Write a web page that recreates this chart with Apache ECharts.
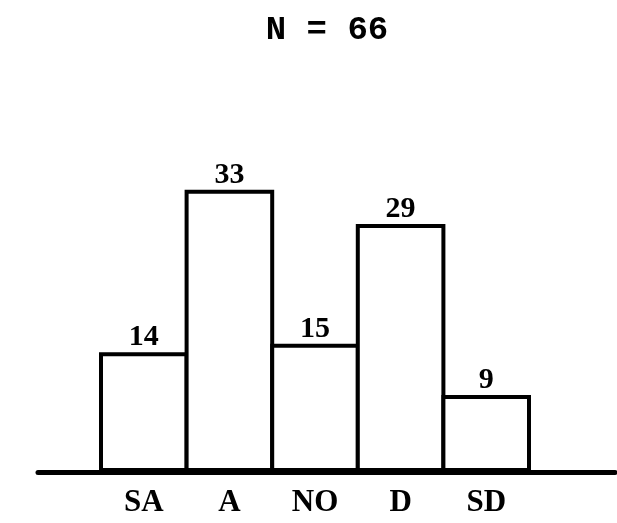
<!DOCTYPE html>
<html>
<head>
<meta charset="utf-8">
<script src="https://cdn.jsdelivr.net/npm/echarts@6/dist/echarts.min.js"></script>
<style>
  html, body { margin: 0; padding: 0; background: #fff; }
  #chart { width: 617px; height: 523px; }
</style>
</head>
<body>
<div id="chart"></div>
<script>
// Response categories and counts
const categories = ['SA', 'A', 'NO', 'D', 'SD'];
const counts = [14, 33, 15, 29, 9];
const titleText = 'N = 66';

const chart = echarts.init(document.getElementById('chart'));

const serif = '"Liberation Serif", "DejaVu Serif", serif';
const outline = 4;

chart.setOption({
  backgroundColor: '#ffffff',
  animation: false,
  title: {
    text: titleText,
    left: 322,
    textAlign: 'center',
    top: 8,
    textStyle: {
      fontFamily: '"Liberation Mono", "DejaVu Sans Mono", monospace',
      fontWeight: 'bold',
      fontSize: 34,
      color: '#000'
    }
  },
  grid: [
    { left: 101, right: 88, top: 130, bottom: 51 },
    // wider grid that carries only the long baseline
    { left: 38, right: 2, top: 130, bottom: 51 }
  ],
  xAxis: [
    {
      type: 'category',
      gridIndex: 0,
      data: categories,
      axisLine: { show: false },
      axisTick: { show: false },
      axisLabel: {
        margin: 15,
        fontFamily: serif,
        fontWeight: 'bold',
        fontSize: 31,
        color: '#000'
      }
    },
    {
      type: 'value',
      gridIndex: 1,
      min: 0,
      max: 1,
      axisLine: { show: true, lineStyle: { color: '#000', width: 5 } },
      axisTick: { show: false },
      axisLabel: { show: false },
      splitLine: { show: false }
    }
  ],
  yAxis: [
    { type: 'value', gridIndex: 0, min: 0, max: 40, show: false },
    { type: 'value', gridIndex: 1, min: 0, max: 40, show: false }
  ],
  series: [
    {
      type: 'bar',
      xAxisIndex: 0,
      yAxisIndex: 0,
      data: counts,
      // neighbouring bars overlap by one outline width so they share a single edge
      barWidth: 428 / categories.length + outline,
      itemStyle: {
        color: '#ffffff',
        borderColor: '#000000',
        borderWidth: outline
      },
      label: {
        show: true,
        position: 'top',
        distance: 0,
        fontFamily: serif,
        fontWeight: 'bold',
        fontSize: 30,
        color: '#000'
      }
    }
  ]
});
</script>
</body>
</html>
